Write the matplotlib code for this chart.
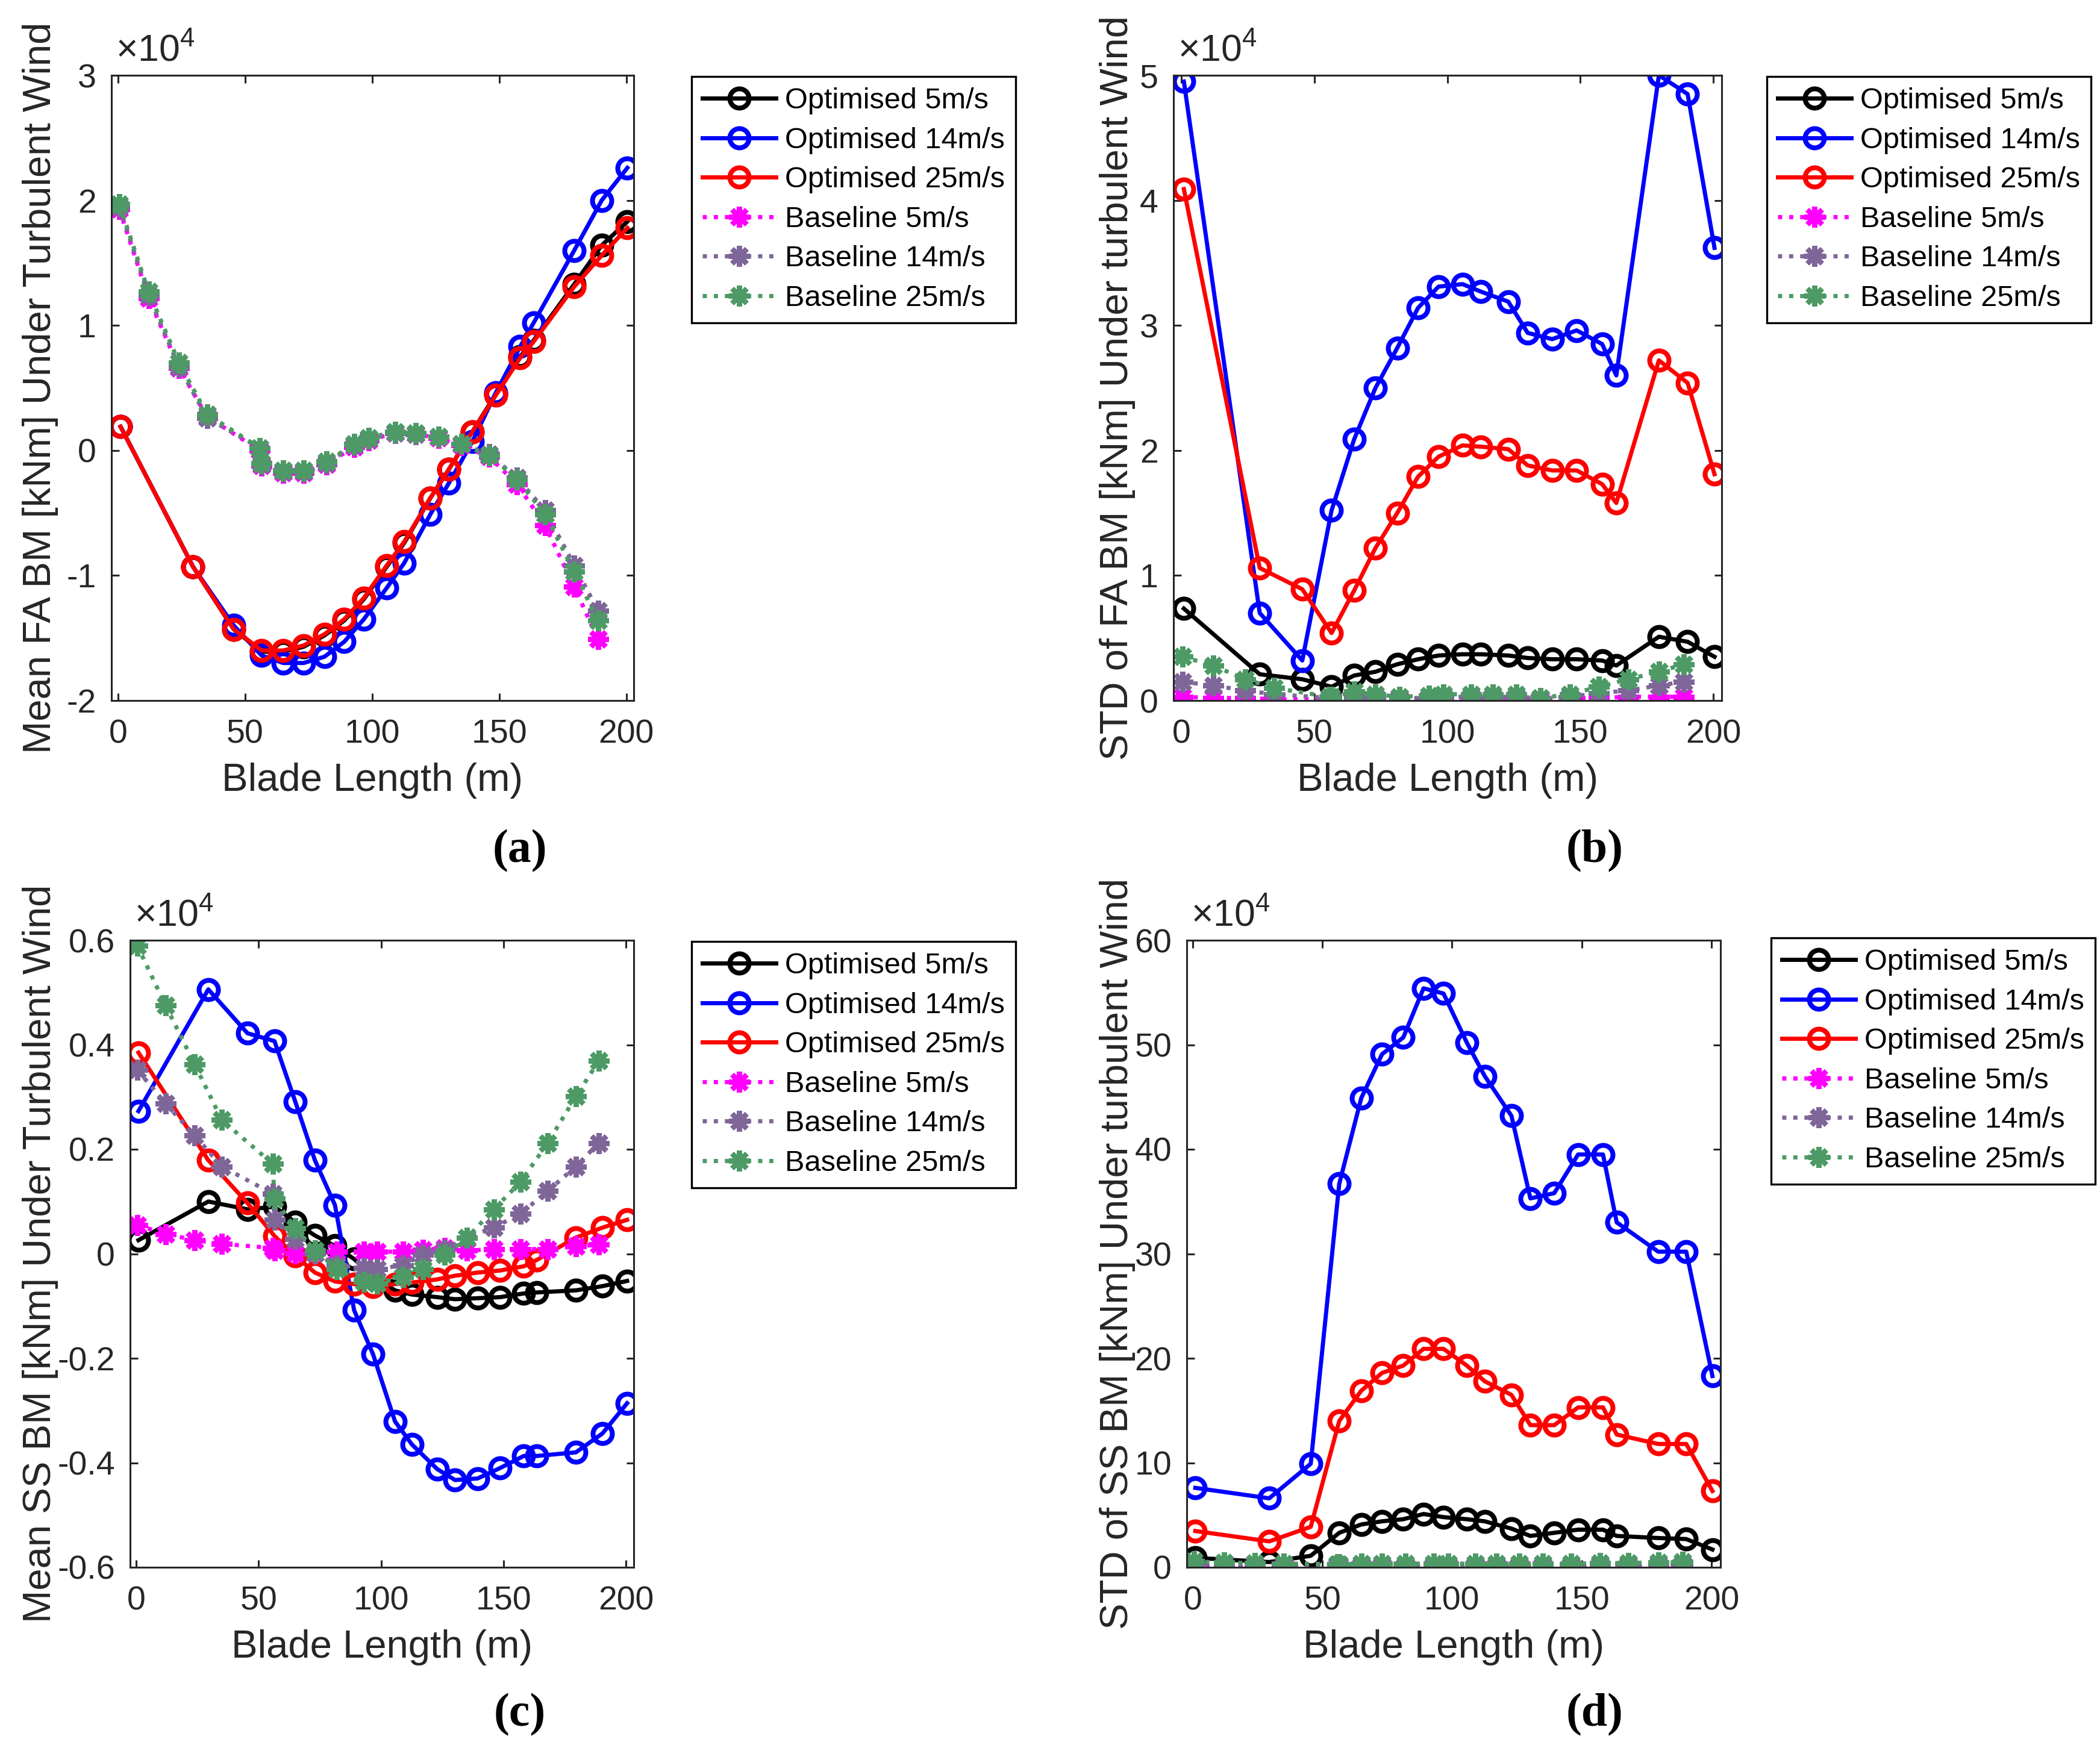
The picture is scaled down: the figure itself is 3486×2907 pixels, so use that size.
import numpy as np
import matplotlib
matplotlib.use("Agg")
import matplotlib.pyplot as plt
from matplotlib.ticker import FuncFormatter

plt.rcParams['font.family'] = ['Liberation Sans', 'DejaVu Sans']
plt.rcParams['axes.unicode_minus'] = False
plt.rcParams['mathtext.fontset'] = 'custom'
plt.rcParams['mathtext.rm'] = 'Liberation Sans'
plt.rcParams['mathtext.it'] = 'Liberation Sans:italic'
plt.rcParams['mathtext.bf'] = 'Liberation Sans:bold'

# blade stations (m)
x_opt = [1, 29.5, 45.5, 56.5, 65, 73, 81.2, 89, 96.7, 105.7, 112.6, 122.9,
         130.2, 139.4, 148.6, 158.2, 163.5, 179.5, 190.3, 200.4]
x_base = [0.5, 12, 24, 35, 55.8, 56.5, 65, 73, 82, 93, 98.5, 109, 117, 126,
          135, 146, 157, 168, 179.5, 188.8]

labels = ["Optimised 5m/s", "Optimised 14m/s", "Optimised 25m/s",
          "Baseline 5m/s", "Baseline 14m/s", "Baseline 25m/s"]

# all values in units of 1e4 kNm
# (a) mean FA bending moment
a_opt5 = [0.19, -0.93, -1.43, -1.61, -1.61, -1.57, -1.48, -1.36, -1.19, -0.93,
          -0.74, -0.38, -0.15, 0.15, 0.45, 0.75, 0.88, 1.33, 1.64, 1.83]
a_opt14 = [0.19, -0.93, -1.40, -1.64, -1.70, -1.70, -1.65, -1.53, -1.35, -1.10,
           -0.90, -0.51, -0.26, 0.07, 0.46, 0.83, 1.02, 1.60, 2.00, 2.26]
a_opt25 = [0.19, -0.93, -1.43, -1.60, -1.60, -1.56, -1.47, -1.35, -1.18, -0.92,
           -0.73, -0.38, -0.15, 0.15, 0.44, 0.74, 0.87, 1.31, 1.56, 1.78]
a_base5 = [1.93, 1.22, 0.66, 0.27, 0.00, -0.12, -0.18, -0.18, -0.11, 0.03,
           0.08, 0.14, 0.13, 0.10, 0.04, -0.05, -0.27, -0.60, -1.09, -1.51]
a_base14 = [1.95, 1.24, 0.67, 0.26, 0.02, -0.11, -0.17, -0.17, -0.10, 0.04,
            0.09, 0.14, 0.13, 0.11, 0.05, -0.03, -0.22, -0.48, -0.92, -1.28]
a_base25 = [1.97, 1.27, 0.70, 0.29, 0.02, -0.10, -0.16, -0.16, -0.09, 0.05,
            0.10, 0.15, 0.14, 0.11, 0.05, -0.04, -0.23, -0.51, -0.97, -1.36]

# (b) STD of FA bending moment
b_opt5 = [0.735, 0.21, 0.17, 0.11, 0.20, 0.23, 0.29, 0.33, 0.36, 0.37, 0.37,
          0.36, 0.34, 0.33, 0.33, 0.32, 0.28, 0.51, 0.47, 0.35]
b_opt14 = [4.95, 0.70, 0.32, 1.52, 2.09, 2.50, 2.82, 3.14, 3.31, 3.33, 3.27,
           3.19, 2.94, 2.89, 2.96, 2.85, 2.60, 5.00, 4.85, 3.62]
b_opt25 = [4.09, 1.06, 0.89, 0.54, 0.88, 1.22, 1.50, 1.79, 1.95, 2.04, 2.03,
           2.01, 1.88, 1.84, 1.84, 1.73, 1.58, 2.72, 2.54, 1.81]
b_base5 = [0.03, 0.02, 0.02, 0.01, 0.01, 0.01, 0.02, 0.02, 0.01, 0.01, 0.02,
           0.02, 0.02, 0.02, 0.01, 0.02, 0.02, 0.03, 0.03, 0.03]
b_base14 = [0.15, 0.12, 0.08, 0.05, 0.02, 0.02, 0.03, 0.03, 0.02, 0.02, 0.03,
            0.03, 0.03, 0.03, 0.02, 0.03, 0.06, 0.08, 0.12, 0.15]
b_base25 = [0.35, 0.28, 0.17, 0.10, 0.03, 0.03, 0.07, 0.05, 0.03, 0.04, 0.05,
            0.05, 0.05, 0.05, 0.02, 0.05, 0.11, 0.17, 0.23, 0.29]

# (c) mean SS bending moment
c_opt5 = [0.026, 0.10, 0.085, 0.09, 0.06, 0.035, 0.015, -0.01, -0.045, -0.07,
          -0.078, -0.083, -0.087, -0.085, -0.083, -0.076, -0.074, -0.07,
          -0.062, -0.052]
c_opt14 = [0.273, 0.506, 0.422, 0.407, 0.291, 0.179, 0.093, -0.108, -0.192,
           -0.321, -0.365, -0.412, -0.433, -0.430, -0.41, -0.387, -0.387,
           -0.380, -0.344, -0.286]
c_opt25 = [0.385, 0.179, 0.097, 0.034, -0.004, -0.036, -0.053, -0.058, -0.063,
           -0.058, -0.055, -0.049, -0.042, -0.036, -0.032, -0.024, -0.012,
           0.031, 0.05, 0.065]
c_base5 = [0.055, 0.038, 0.026, 0.019, 0.011, 0.006, 0.001, 0.001, 0.004,
           0.004, 0.004, 0.004, 0.008, 0.011, 0.006, 0.009, 0.009, 0.009,
           0.014, 0.018]
c_base14 = [0.352, 0.288, 0.226, 0.167, 0.115, 0.065, 0.028, 0.001, -0.022,
            -0.027, -0.029, -0.022, -0.002, 0.008, 0.031, 0.05, 0.077, 0.12,
            0.167, 0.212]
c_base25 = [0.59, 0.476, 0.362, 0.256, 0.172, 0.105, 0.049, 0.006, -0.029,
            -0.054, -0.057, -0.044, -0.029, -0.002, 0.030, 0.085, 0.138,
            0.212, 0.301, 0.369]

# (d) STD of SS bending moment
d_opt5 = [0.9, 0.5, 1.1, 3.3, 4.1, 4.4, 4.6, 5.1, 4.8, 4.6, 4.4, 3.7, 3.0,
          3.3, 3.6, 3.6, 3.0, 2.8, 2.7, 1.7]
d_opt14 = [7.6, 6.6, 9.9, 36.7, 44.9, 49.1, 50.7, 55.4, 54.9, 50.2, 47.0,
           43.2, 35.3, 35.8, 39.5, 39.5, 33.0, 30.2, 30.2, 18.3]
d_opt25 = [3.47, 2.48, 3.87, 14.0, 16.9, 18.6, 19.3, 20.9, 20.9, 19.3, 17.8,
           16.5, 13.6, 13.6, 15.3, 15.3, 12.7, 11.8, 11.8, 7.3]
d_base5 = [0.1, 0.1, 0.1, 0.1, 0.1, 0.1, 0.1, 0.1, 0.1, 0.1, 0.1, 0.1, 0.1,
           0.1, 0.1, 0.1, 0.1, 0.1, 0.1, 0.1]
d_base14 = [0.3, 0.3, 0.25, 0.25, 0.2, 0.2, 0.2, 0.2, 0.2, 0.2, 0.2, 0.2,
            0.2, 0.2, 0.2, 0.2, 0.25, 0.25, 0.3, 0.3]
d_base25 = [0.55, 0.45, 0.4, 0.35, 0.3, 0.3, 0.32, 0.35, 0.35, 0.35, 0.35,
            0.35, 0.35, 0.35, 0.35, 0.35, 0.38, 0.42, 0.45, 0.5]

colors = ['black', 'blue', 'red', 'magenta', '#7F6699', '#4E9A66']

W, H = 3487, 2907
fig = plt.figure(figsize=(W / 100, H / 100), dpi=100)

ink = (0.15, 0.15, 0.15)
tick_fs = 40
label_fs = 47
leg_fs = 35


def px_axes(l, r, t, b):
	return fig.add_axes([l / W, 1 - b / H, (r - l) / W, (b - t) / H])


def panel(ax, box, series, ylim, yticks, xlim, ylabel, ylab_px, leg_xy, tag, tag_xy):
	for i, y in enumerate(series):
		if i < 3:
			ax.plot(x_opt, y, '-', color=colors[i], lw=5, marker='o',
					ms=23, mew=5.8, mfc='none', label=labels[i])
		else:
			ax.plot(x_base, y, ':', color=colors[i], lw=5, marker=(8, 2, 0),
					ms=25, mew=6, label=labels[i])
	ax.set_xlim(*xlim)
	ax.set_ylim(*ylim)
	ax.set_xticks([0, 50, 100, 150, 200])
	ax.set_yticks(yticks)
	ax.yaxis.set_major_formatter(FuncFormatter(lambda v, p: '%g' % round(v, 4)))
	ax.tick_params(direction='in', top=True, right=True, length=9, width=2.2,
				   labelsize=tick_fs, colors=ink, labelcolor=ink)
	ax.tick_params(axis='x', pad=22)
	ax.tick_params(axis='y', pad=18)
	for s in ax.spines.values():
		s.set_linewidth(2.2)
		s.set_color(ink)
	ax.set_xlabel("Blade Length (m)", fontsize=label_fs, color=ink)
	ax.xaxis.set_label_coords(0.5, -0.099)
	ax.set_ylabel(ylabel, fontsize=label_fs, color=ink)
	ax.yaxis.set_label_coords((ylab_px - box[0]) / (box[1] - box[0]), 0.5)
	ax.text(0.008, 1.011, r'$\times10^{4}$', transform=ax.transAxes,
			fontsize=45, color=ink, ha='left', va='bottom')
	leg = ax.legend(loc='upper left', bbox_to_anchor=(leg_xy[0] / W, 1 - leg_xy[1] / H),
					bbox_transform=fig.transFigure, borderaxespad=0,
					fontsize=leg_fs, handlelength=2.5, handletextpad=0.3,
					labelspacing=0.42, borderpad=0.38, fancybox=False,
					framealpha=1, edgecolor='black')
	leg.get_frame().set_linewidth(2.4)
	fig.text(tag_xy[0] / W, 1 - tag_xy[1] / H, tag, fontsize=56,
			 family='Liberation Serif', fontweight='bold', ha='center', va='center')


box_a = (185, 1052, 125, 1163)
ax_a = px_axes(*box_a)
panel(ax_a, box_a, [a_opt5, a_opt14, a_opt25, a_base5, a_base14, a_base25],
	  (-2, 3), [-2, -1, 0, 1, 2, 3], (-2.6, 202.9),
	  "Mean FA BM [kNm] Under Turbulent Wind", 97, (1148, 127), "(a)", (863, 1413))

box_b = (1948, 2858, 125, 1163)
ax_b = px_axes(*box_b)
panel(ax_b, box_b, [b_opt5, b_opt14, b_opt25, b_base5, b_base14, b_base25],
	  (0, 5), [0, 1, 2, 3, 4, 5], (-2.9, 203.1),
	  "STD of FA BM [kNm] Under turbulent Wind", 1885, (2933, 127), "(b)", (2647, 1413))

box_c = (216, 1052, 1561, 2602)
ax_c = px_axes(*box_c)
panel(ax_c, box_c, [c_opt5, c_opt14, c_opt25, c_base5, c_base14, c_base25],
	  (-0.6, 0.6), [-0.6, -0.4, -0.2, 0, 0.2, 0.4, 0.6], (-2.4, 203.1),
	  "Mean SS BM [kNm] Under Turbulent Wind", 97, (1148, 1563), "(c)", (863, 2847))

box_d = (1970, 2856, 1561, 2602)
ax_d = px_axes(*box_d)
panel(ax_d, box_d, [d_opt5, d_opt14, d_opt25, d_base5, d_base14, d_base25],
	  (0, 60), [0, 10, 20, 30, 40, 50, 60], (-2.3, 203.5),
	  "STD of SS BM [kNm] Under turbulent Wind", 1885, (2940, 1557), "(d)", (2647, 2847))

fig.savefig("out.png", dpi=100)
